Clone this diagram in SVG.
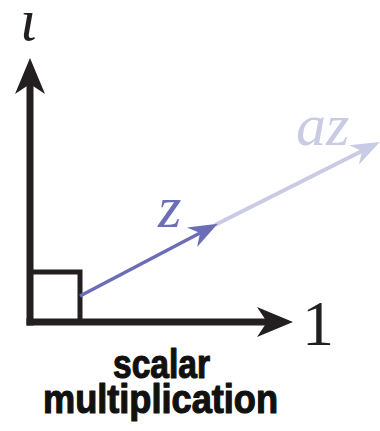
<svg xmlns="http://www.w3.org/2000/svg" width="380" height="431" viewBox="0 0 380 431">
  <style>
    .axis { stroke: #231f20; stroke-width: 7; fill: none; }
    .box { stroke: #231f20; stroke-width: 5; fill: none; }
    .vz { stroke: #6b6eb6; stroke-width: 3.5; fill: none; }
    .vaz { stroke: #c9cbe5; stroke-width: 4; fill: none; }
    .math { font-family: "Liberation Serif", "DejaVu Serif", serif; font-style: italic; font-size: 60px; }
    .num { font-family: "Liberation Serif", "DejaVu Serif", serif; font-size: 64px; fill: #231f20; }
    .cap { font-family: "Liberation Sans Narrow", "Liberation Sans", Arial, sans-serif; font-weight: bold; font-size: 40px; fill: #111; stroke: #111; stroke-width: 1.2; stroke-linejoin: round; }
  </style>
  <defs>
    <marker id="headBlack" markerUnits="userSpaceOnUse" viewBox="-12 -17 42 34" refX="0" refY="0" markerWidth="42" markerHeight="34" orient="auto">
      <path d="M-10,-15 L26,0 L-10,15 L0,0 Z" fill="#231f20"/>
    </marker>
    <marker id="headBlue" markerUnits="userSpaceOnUse" viewBox="-10 -13 34 26" refX="0" refY="0" markerWidth="34" markerHeight="26" orient="auto">
      <path d="M-9,-11 L20,0 L-9,11 L0,0 Z" fill="#6b6eb6"/>
    </marker>
    <marker id="headLight" markerUnits="userSpaceOnUse" viewBox="-10 -13 34 26" refX="0" refY="0" markerWidth="34" markerHeight="26" orient="auto">
      <path d="M-9,-11 L20,0 L-9,11 L0,0 Z" fill="#c9cbe5"/>
    </marker>
  </defs>

  <g id="right-angle">
    <rect class="box" x="30" y="272" width="50" height="50"/>
  </g>

  <g id="connectors">
    <line class="vaz" x1="215" y1="225" x2="362" y2="151" marker-end="url(#headLight)"/>
    <line class="vz" x1="80" y1="296" x2="200" y2="233" marker-end="url(#headBlue)"/>
    <line class="axis" x1="30" y1="325.5" x2="30" y2="84" marker-end="url(#headBlack)"/>
    <line class="axis" x1="26.5" y1="322" x2="267" y2="322" marker-end="url(#headBlack)"/>
  </g>

  <g id="label-iota">
    <text class="math" x="20" y="40" fill="#231f20">ι</text>
  </g>
  <g id="label-one">
    <text class="num" x="302" y="345">1</text>
  </g>
  <g id="label-z">
    <text class="math" x="158" y="227" fill="#6b6eb6">z</text>
  </g>
  <g id="label-az">
    <text class="math" x="296" y="145" fill="#c9cbe5">az</text>
  </g>
  <g id="caption">
    <text class="cap" x="113" y="378" textLength="97" lengthAdjust="spacingAndGlyphs">scalar</text>
    <text class="cap" x="43" y="413" textLength="235" lengthAdjust="spacingAndGlyphs">multiplication</text>
  </g>
</svg>
